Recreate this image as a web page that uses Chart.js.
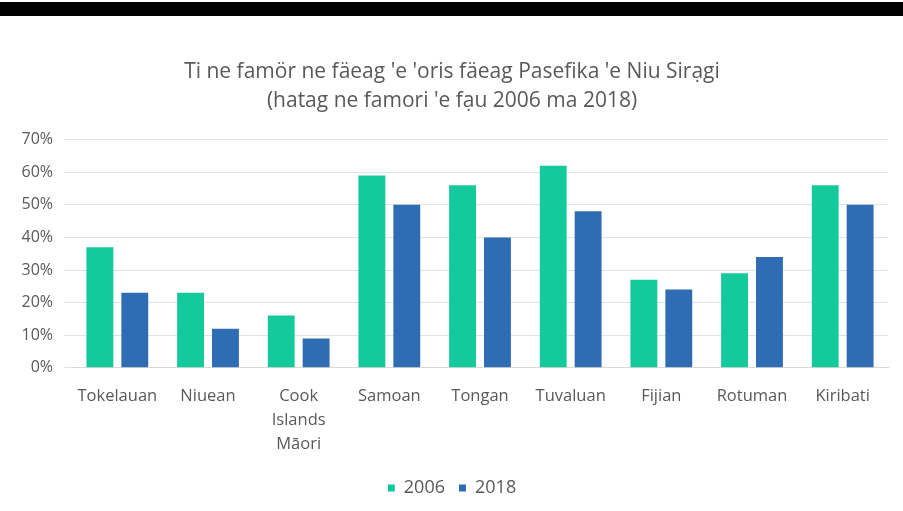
<!DOCTYPE html>
<html>
<head>
<meta charset="utf-8">
<script src="https://cdn.jsdelivr.net/npm/chart.js@4.4.1/dist/chart.umd.min.js"></script>
<style>
  html, body { margin: 0; padding: 0; background: #fff; }
  #topbar { position: absolute; left: 0; top: 2px; width: 903px; height: 14px; background: #000; }
  #wrap { position: absolute; left: 0; top: 0; width: 903px; height: 511px; }
</style>
</head>
<body>
<div id="wrap"><canvas id="chart" width="903" height="511"></canvas></div>
<div id="topbar"></div>
<script>
// Pacific language speakers, share by ethnic group, 2006 vs 2018

const categories = ["Tokelauan", "Niuean", ["Cook", "Islands", "Māori"], "Samoan", "Tongan", "Tuvaluan", "Fijian", "Rotuman", "Kiribati"];
const values2006 = [37, 23, 16, 59, 56, 62, 27, 29, 56];
const values2018 = [23, 12, 9, 50, 40, 48, 24, 34, 50];
const yTicks = [0, 10, 20, 30, 40, 50, 60, 70];

const GREEN = "#14c99b";
const BLUE = "#2e6db4";
const TEXT = "#595959";
const FONT = "'Open Sans', sans-serif";

new Chart(document.getElementById("chart"), {
  type: "bar",
  data: {
    labels: categories,
    datasets: [
      { label: "2006", data: values2006, backgroundColor: GREEN },
      { label: "2018", data: values2018, backgroundColor: BLUE },
    ],
  },
  options: {
    responsive: false,
    animation: false,
    devicePixelRatio: 1,
    layout: { padding: { left: 16, right: 15, top: 58, bottom: 4 } },
    datasets: { bar: { categoryPercentage: 0.77, barPercentage: 0.77 } },
    plugins: {
      title: {
        display: true,
        text: ["Ti ne famör ne fäeag 'e 'oris fäeag Pasefika 'e Niu Sirạgi", "(hatag ne famori 'e fạu 2006 ma 2018)"],
        color: TEXT,
        font: { family: FONT, size: 21, weight: "normal", lineHeight: 1.35 },
        padding: { top: 0, bottom: 25 },
      },
      legend: {
        position: "bottom",
        labels: {
          color: TEXT,
          font: { family: FONT, size: 18 },
          boxWidth: 7, boxHeight: 7, padding: 14,
        },
      },
      tooltip: { enabled: false },
    },
    scales: {
      x: {
        grid: { display: false },
        border: { color: "#d9d9d9" },
        ticks: { color: TEXT, font: { family: FONT, size: 16.5, lineHeight: 1.48 }, padding: 8, maxRotation: 0, autoSkip: false },
      },
      y: {
        min: 0, max: 70,
        afterBuildTicks: (axis) => { axis.ticks = yTicks.map(v => ({ value: v })); },
        afterFit: (axis) => { axis.width = 56; },
        grid: { color: "#e3e3e3" },
        border: { display: false },
        ticks: { color: TEXT, font: { family: FONT, size: 16 }, padding: 11, callback: v => v + "%" },
      },
    },
  },
});
</script>
</body>
</html>
